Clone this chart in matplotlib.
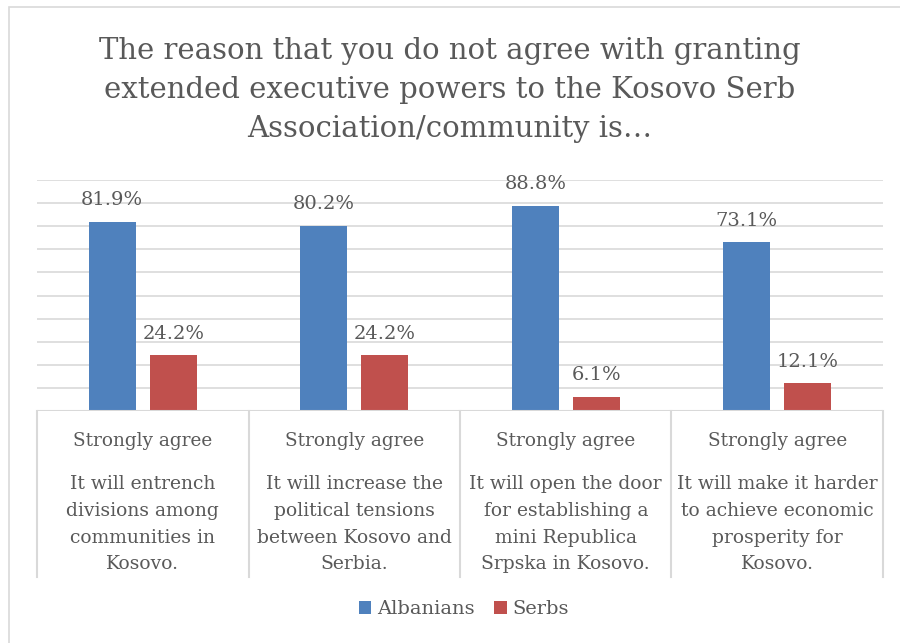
import numpy as np
import matplotlib.pyplot as plt
from matplotlib.patches import Rectangle

# survey shares (fraction of respondents who strongly agree)
groups = ['Albanians', 'Serbs']
albanians = [0.819, 0.802, 0.888, 0.731]
serbs = [0.242, 0.242, 0.061, 0.121]
top_labels = ['Strongly agree'] * 4
reasons = ['It will entrench\ndivisions among\ncommunities in\nKosovo.',
           'It will increase the\npolitical tensions\nbetween Kosovo and\nSerbia.',
           'It will open the door\nfor establishing a\nmini Republica\nSrpska in Kosovo.',
           'It will make it harder\nto achieve economic\nprosperity for\nKosovo.']
title = ('The reason that you do not agree with granting\n'
         'extended executive powers to the Kosovo Serb\n'
         'Association/community is…')

blue = '#4f81bd'
red = '#c0504d'
txt = '#595959'
grid = '#d9d9d9'
plt.rcParams['font.family'] = 'DejaVu Serif'

fig = plt.figure(figsize=(9, 6.43), dpi=100)
fig.patches.append(Rectangle((9 / 900, -0.1), 1.2, 1 - 7 / 643 + 0.1, transform=fig.transFigure,
                             fill=False, edgecolor=grid, lw=1.2))
ax = fig.add_axes([37 / 900, 1 - 411 / 643, 846 / 900, 231 / 643])

x = np.arange(len(albanians))
w = 0.222
off = 0.144
b1 = ax.bar(x - off, albanians, w, color=blue, label=groups[0], zorder=3)
b2 = ax.bar(x + off, serbs, w, color=red, label=groups[1], zorder=3)

for bars, vals in [(b1, albanians), (b2, serbs)]:
    for rect, v in zip(bars, vals):
        ax.annotate('{:.1f}%'.format(v * 100), (rect.get_x() + rect.get_width() / 2, v),
                    xytext=(0, 15.5), textcoords='offset points', ha='center', va='center',
                    fontsize=14, color=txt)

ax.set_xlim(-0.5, 3.5)
ax.set_ylim(0, 1)
ax.set_yticks(np.arange(0, 1.01, 0.1))
ax.yaxis.grid(True, color=grid, lw=1.2, zorder=0)
ax.tick_params(left=False, labelleft=False, bottom=False, labelbottom=False)
for s in ax.spines.values():
    s.set_visible(False)
ax.axhline(0, color=grid, lw=1.5, zorder=4)

# two-level category labels with separators
xt = ax.get_xaxis_transform()
for b in np.arange(-0.5, 4, 1):
    ax.plot([b, b], [0, -0.718], transform=xt, color=grid, lw=1.5, clip_on=False)
for i in x:
    ax.text(i, -0.13, top_labels[i], transform=xt, ha='center', va='center',
            fontsize=13.3, color=txt)
    ax.text(i, -0.278, reasons[i], transform=xt, ha='center', va='top',
            fontsize=13.5, color=txt, linespacing=1.62)

fig.text(0.5, 1 - 90 / 643, title, ha='center', va='center', fontsize=21,
         color=txt, linespacing=1.5)

fig.legend(handles=[b1, b2], loc='center', bbox_to_anchor=(464 / 900, 1 - 609 / 643),
           ncol=2, frameon=False, fontsize=14, handlelength=0.65, handleheight=0.65,
           handletextpad=0.3, columnspacing=1.0, labelcolor=txt)

fig.savefig('out.png', dpi=100)
